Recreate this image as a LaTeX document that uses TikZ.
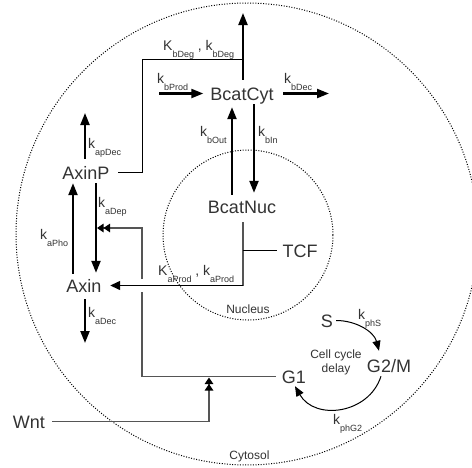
\documentclass[tikz,border=0pt]{standalone}
\usepackage{fontspec}
\setmainfont{Liberation Sans}
\usetikzlibrary{arrows.meta}
\definecolor{txt}{HTML}{333333}
\definecolor{conn}{HTML}{555555}
\newcommand{\sbs}[1]{\raisebox{-7.5pt}{\fontsize{9}{9}\selectfont #1}}
\begin{document}
\begin{tikzpicture}[x=1pt,y=-1pt,
  main/.style={font=\fontsize{18}{20}\selectfont, text=txt, text height=13pt, text depth=0pt, inner sep=3pt},
  lab/.style={font=\fontsize{14}{16}\selectfont, text=txt, anchor=base west, inner sep=0pt},
  small/.style={font=\fontsize{12}{14}\selectfont, text=txt},
  arr/.style={line width=2.2pt, -{Triangle[length=12pt,width=9pt]}},
  thinline/.style={line width=1pt},
  gline/.style={line width=1.3pt, draw=conn},
  dbl/.style={-{Triangle[length=6.5pt,width=8.5pt,sep=0pt,color=black]Triangle[length=6.5pt,width=8.5pt,color=black]}},
  cyc/.style={line width=1pt, -{Triangle[length=10pt,width=8pt]}},
  memb/.style={line width=1pt, dash pattern=on 1pt off 1.6pt}
]
\useasboundingbox (0,0) rectangle (472,467);
\fill[white] (0,0) rectangle (472,467);
% compartments
\draw[memb] (247,234) circle[radius=231pt];
\draw[memb] (248,235) circle[radius=85pt];
% nodes
\node[main] (BcatCyt) at (242,93.5) {BcatCyt};
\node[main] (BcatNuc) at (242,206.5) {BcatNuc};
\node[main] (TCF) at (300,250.5) {TCF};
\node[main] (AxinP) at (86,172.5) {AxinP};
\node[main] (Axin) at (84,285.5) {Axin};
\node[main] (Wnt) at (29,421.5) {Wnt};
\node[main] (S) at (327,320.5) {S};
\node[main] (G2M) at (389,365.5) {G2/M};
\node[main] (G1) at (294,376.5) {G1};
% coordinates
\coordinate (degTop) at (243,13);
\coordinate (degJoin) at (243,59);
\coordinate (bProdSrc) at (159,93.5);
\coordinate (bDecEnd) at (329,93.5);
\coordinate (apDecEnd) at (85,113);
\coordinate (aDecEnd) at (85,343);
\coordinate (pc) at (243,285.5);
\coordinate (c1) at (142,376.5);
\coordinate (c1b) at (142,292);
\coordinate (c2a) at (142,279);
\coordinate (c2) at (142,228);
\coordinate (dTip) at (97,228);
\coordinate (wTip) at (209,377.5);
% beta-catenin
\draw[arr] ([xshift=1pt,yshift=4pt]BcatCyt.north) -- (degTop);
\draw[thinline] ([xshift=5.5pt]AxinP.east) -| (142,59) -- (degJoin);
\draw[arr] (bProdSrc) -- ([xshift=-4pt]BcatCyt.west);
\draw[arr] ([xshift=6.5pt]BcatCyt.east) -- (bDecEnd);
\draw[arr] ([xshift=-10pt,yshift=2pt]BcatNuc.north) -- ([xshift=-10pt,yshift=-4pt]BcatCyt.south);
\draw[arr] ([xshift=12pt,yshift=-1pt]BcatCyt.south) -- ([xshift=12pt,yshift=4pt]BcatNuc.north);
% axin
\draw[arr] ([xshift=-1pt,yshift=4pt]AxinP.north) -- (apDecEnd);
\draw[arr] ([xshift=-11pt,yshift=2pt]Axin.north) -- ([xshift=-13pt,yshift=-1pt]AxinP.south);
\draw[arr] ([xshift=10pt,yshift=-1pt]AxinP.south) -- ([xshift=12pt,yshift=3pt]Axin.north);
\draw[arr] ([xshift=1pt,yshift=-4pt]Axin.south) -- (aDecEnd);
% axin production
\draw[gline] ([xshift=1pt,yshift=-6pt]BcatNuc.south) -- (pc);
\draw[line width=1.3pt, -{Triangle[length=10pt,width=9pt]}] (pc) -- ([xshift=5.5pt]Axin.east);
\draw[thinline] ([xshift=-2.5pt]TCF.west) -- (pc |- TCF.west);
% G1 / Wnt
\draw[gline] ([xshift=-3pt]G1.west) -- (c1) -- (c1b);
\draw[gline, dbl] (c2a) -- (c2) -- (dTip);
\draw[gline, dbl] ([xshift=4pt]Wnt.east) -| (wTip);
% cell cycle
\draw[cyc] (S.east) .. controls (356,320.5) and (374,331.6) .. ([xshift=-10pt,yshift=5pt]G2M.north);
\draw[cyc] ([xshift=-8pt,yshift=-1pt]G2M.south) .. controls (369,414) and (315,421) .. ([xshift=1pt]G1.south);
% labels
\node[lab] (lbDeg) at (163,50) {K\sbs{bDeg} , k\sbs{bDeg}};
\node[lab] (lbProd) at (157,83) {k\sbs{bProd}};
\node[lab] (lbDec) at (284,83) {k\sbs{bDec}};
\node[lab] (lbOut) at (200,136) {k\sbs{bOut}};
\node[lab] (lbIn) at (258,136) {k\sbs{bIn}};
\node[lab] (lapDec) at (88,148) {k\sbs{apDec}};
\node[lab] (laDep) at (98,207) {k\sbs{aDep}};
\node[lab] (laPho) at (40,239) {k\sbs{aPho}};
\node[lab] (laProd) at (158,275) {K\sbs{aProd} , k\sbs{aProd}};
\node[lab] (laDec) at (88,317) {k\sbs{aDec}};
\node[lab] (lphS) at (358,319) {k\sbs{phS}};
\node[lab] (lphG2) at (333,424) {k\sbs{phG2}};
\node[small, align=center] (delay) at (336,362) {Cell cycle\\delay};
\node[small, anchor=base, inner sep=0pt] (nuc) at (248,313) {Nucleus};
\node[small, anchor=base, inner sep=0pt] (cyto) at (249.5,459) {Cytosol};
\end{tikzpicture}
\end{document}
